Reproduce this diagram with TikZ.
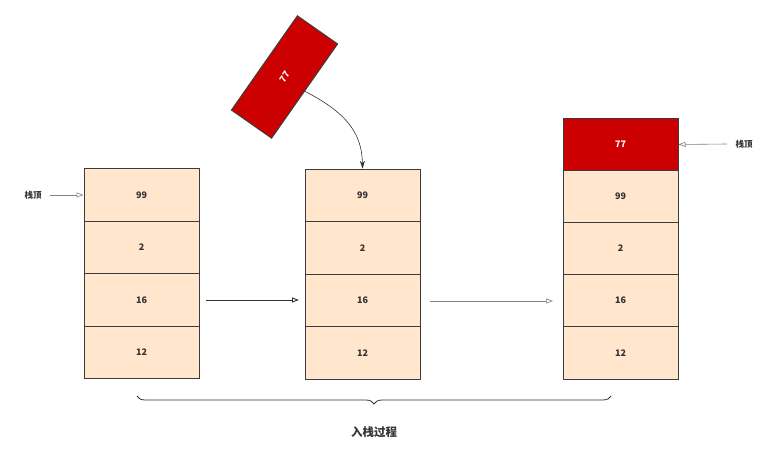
\documentclass[tikz,border=0pt]{standalone}
\usepackage{fontspec}
\setmainfont{Noto Sans CJK SC}
\usetikzlibrary{arrows.meta,decorations.pathreplacing}
\definecolor{peach}{HTML}{FFE6CC}
\definecolor{redfill}{HTML}{CC0000}
\definecolor{edge}{HTML}{3C3C3C}
\definecolor{txt}{HTML}{333333}
\begin{document}
\begin{tikzpicture}[x=1pt,y=-1pt,
  cell/.style={draw=edge, line width=1pt, fill=peach, minimum width=115pt, minimum height=52.5pt, inner sep=0pt, font=\fontsize{9}{11}\selectfont\bfseries, text=txt},
  redcell/.style={cell, fill=redfill, text=white},
  opentip/.style={-{Triangle[open,length=7pt,width=5pt]}},
  lbl/.style={font=\fontsize{8.5}{10}\selectfont\bfseries, text=txt}]
\useasboundingbox[fill=white] (0,0) rectangle (781,462);
% stack 1
\node[cell] (a1) at (141.5,195) {99};
\node[cell] (a2) at (141.5,247.5) {2};
\node[cell] (a3) at (141.5,300) {16};
\node[cell] (a4) at (141.5,352.5) {12};
% stack 2
\node[cell] (b1) at (362.5,195.5) {99};
\node[cell] (b2) at (362.5,248) {2};
\node[cell] (b3) at (362.5,300.5) {16};
\node[cell] (b4) at (362.5,353) {12};
% stack 3
\node[redcell] (c0) at (620.5,144.5) {77};
\node[cell] (c1) at (620.5,196.5) {99};
\node[cell] (c2) at (620.5,248.5) {2};
\node[cell] (c3) at (620.5,300.5) {16};
\node[cell] (c4) at (620.5,353) {12};
% rotated element
\node[redcell, rotate=55, minimum width=115pt, minimum height=49pt] (r) at (284.5,77) {77};
\draw[line width=0.6pt, draw=txt, -{Stealth[length=8pt,width=5pt]}] (r.south) .. controls (345,112) and (362,132) .. (b1.north);
% labels
\node[lbl] (t1) at (33,195) {栈顶};
\draw[opentip, draw=gray, line width=0.6pt] (t1.east) ++(5,0) coordinate (t1s) -- (a1.west);
\node[lbl] (t2) at (744,144) {栈顶};
\draw[opentip, draw=gray, line width=0.6pt] (t2.west) ++(-5,0) coordinate (t2s) -- (c0.east);
% transition arrows
\coordinate (p1) at (206,300);
\coordinate (p2) at (299,300);
\draw[opentip, draw=txt, line width=0.9pt] (p1) -- (p2);
\coordinate (q1) at (430,301);
\coordinate (q2) at (553,301);
\draw[opentip, draw=gray, line width=0.6pt] (q1) -- (q2);
% brace
\coordinate (br1) at (137,396);
\coordinate (br2) at (611,396);
\draw[draw=txt, line width=0.8pt, decorate, decoration={brace, mirror, amplitude=8pt}] (br1) -- (br2);
\node[font=\fontsize{11.5}{13}\selectfont\bfseries, text=txt] (cap) at (374,432) {入栈过程};
\end{tikzpicture}
\end{document}
